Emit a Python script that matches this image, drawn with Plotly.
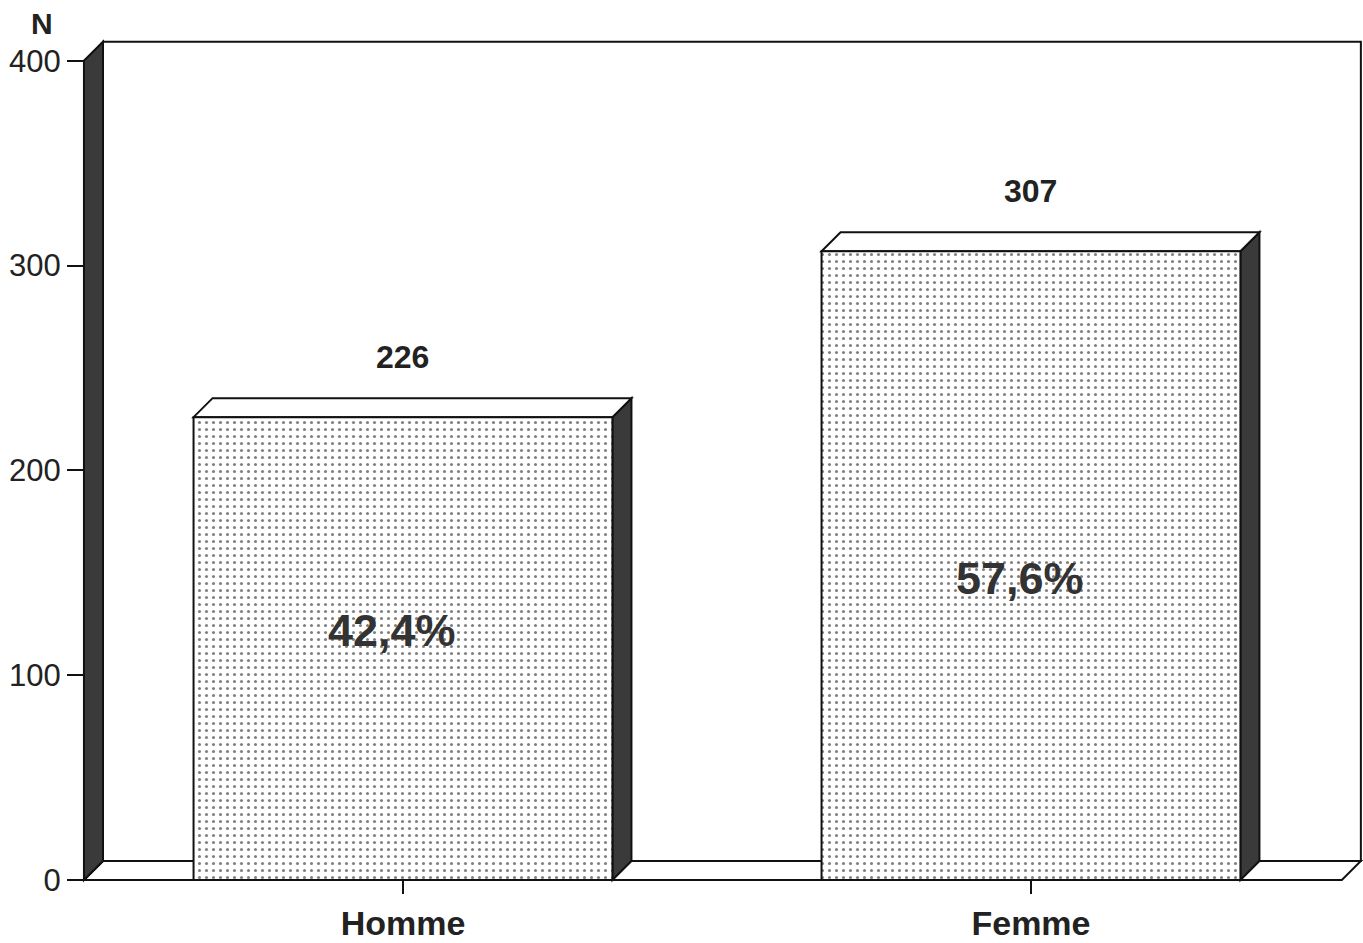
import plotly.graph_objects as go

# Data
categories = ["Homme", "Femme"]
counts = [226, 307]
y_tick_values = [0, 100, 200, 300, 400]

total = sum(counts)
pct_text = [f"{100 * c / total:.1f}%".replace(".", ",") for c in counts]

# Layout geometry (axis units)
x_pos = [0, 1]
bar_w = 0.667
dx = 0.0303          # depth of the 3-D extrusion along x
dy = 9.27            # depth of the 3-D extrusion along y
wall_x = -0.508      # front edge of the left wall
floor_right = 1.495  # front-right corner of the floor
wall_top = 400
x_range = [-0.6417, 1.5287]
y_range = [-16.1, 419.9]
pct_label_y = [122, 147]

FONT = "Liberation Sans, Arial, sans-serif"
INK = "#111111"
DARK = "#3a3a3a"

shapes = []

# back wall
shapes.append(dict(type="rect", xref="x", yref="y",
                   x0=wall_x + dx, x1=floor_right + dx, y0=dy, y1=wall_top + dy,
                   fillcolor="white", line=dict(color=INK, width=2), layer="below"))
# floor
shapes.append(dict(type="path", xref="x", yref="y",
                   path=f"M{wall_x},0 L{floor_right},0 L{floor_right + dx},{dy} L{wall_x + dx},{dy} Z",
                   fillcolor="white", line=dict(color=INK, width=2), layer="below"))
# left wall
shapes.append(dict(type="path", xref="x", yref="y",
                   path=f"M{wall_x},0 L{wall_x},{wall_top} L{wall_x + dx},{wall_top + dy} L{wall_x + dx},{dy} Z",
                   fillcolor=DARK, line=dict(color=INK, width=2), layer="below"))

# side and top faces of each bar
for xc, v in zip(x_pos, counts):
    left, right = xc - bar_w / 2, xc + bar_w / 2
    shapes.append(dict(type="path", xref="x", yref="y",
                       path=f"M{right},0 L{right + dx},{dy} L{right + dx},{v + dy} L{right},{v} Z",
                       fillcolor=DARK, line=dict(color=INK, width=2), layer="below"))
    shapes.append(dict(type="path", xref="x", yref="y",
                       path=f"M{left},{v} L{right},{v} L{right + dx},{v + dy} L{left + dx},{v + dy} Z",
                       fillcolor="white", line=dict(color=INK, width=2), layer="below"))

fig = go.Figure()
fig.add_trace(go.Bar(
    x=x_pos, y=counts, width=bar_w,
    marker=dict(color="white",
                line=dict(color=INK, width=2),
                pattern=dict(shape=".", fgcolor="#000000", bgcolor="white", size=7, solidity=0.15)),
    hoverinfo="skip", showlegend=False,
))

annotations = []
for xc, v, p, py in zip(x_pos, counts, pct_text, pct_label_y):
    annotations.append(dict(x=xc, y=v + dy, text=str(v), showarrow=False, yshift=41,
                            font=dict(family=FONT, size=32, color="#222", weight="bold")))
    annotations.append(dict(x=xc, y=py, text=p, showarrow=False, xshift=-11,
                            font=dict(family=FONT, size=45, color="#333", weight="bold")))
annotations.append(dict(x=wall_x, y=wall_top, text="N", showarrow=False, xshift=-42, yshift=37,
                        font=dict(family=FONT, size=30, color="#222", weight="bold")))

fig.update_layout(
    width=1363, height=943,
    margin=dict(l=0, r=0, t=20, b=30),
    paper_bgcolor="white", plot_bgcolor="white",
    shapes=shapes, annotations=annotations,
    xaxis=dict(range=x_range, anchor="free",
               position=-y_range[0] / (y_range[1] - y_range[0]),
               tickvals=x_pos, ticktext=categories,
               ticks="outside", ticklen=13, tickwidth=2, tickcolor=INK,
               tickfont=dict(family=FONT, size=34, color="#222", weight="bold"),
               showline=False, showgrid=False, zeroline=False, fixedrange=True),
    yaxis=dict(range=y_range, anchor="free",
               position=(wall_x - x_range[0]) / (x_range[1] - x_range[0]),
               tickvals=y_tick_values,
               ticks="outside", ticklen=17, tickwidth=2, tickcolor=INK,
               tickfont=dict(family=FONT, size=31, color="#222"),
               showline=False, showgrid=False, zeroline=False, fixedrange=True),
)

fig.write_html("out.html")
